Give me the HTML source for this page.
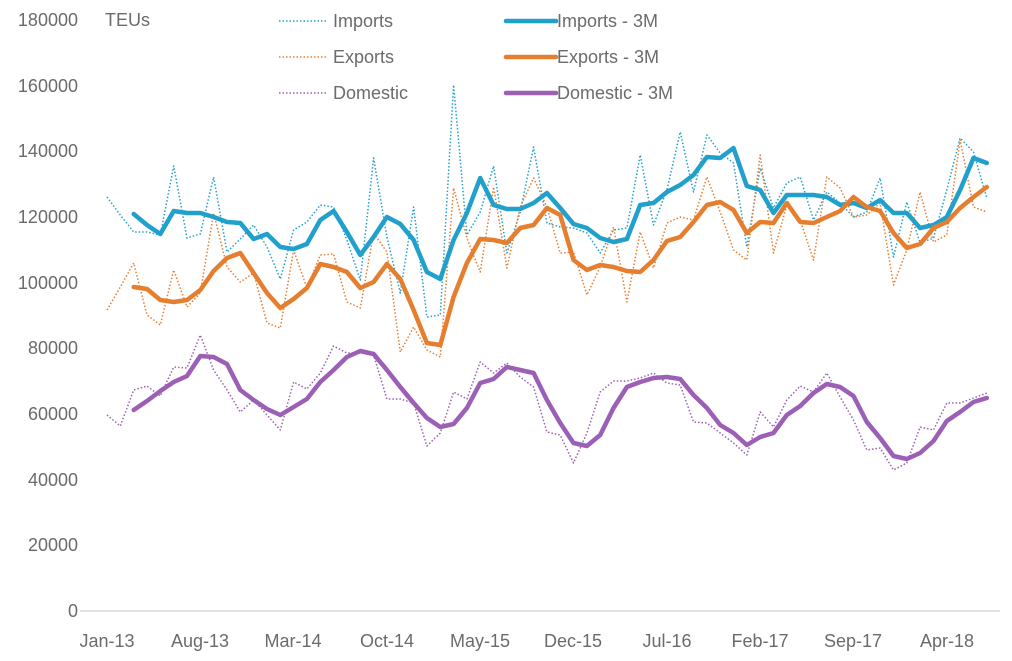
<!DOCTYPE html>
<html><head><meta charset="utf-8"><style>
body{margin:0;background:#fff;}
svg{display:block;font-family:"Liberation Sans",sans-serif;}
.t{fill:#6b6b6b;font-size:18px;}
</style></head><body>
<svg id="s" width="1012" height="661" viewBox="0 0 1012 661" xmlns="http://www.w3.org/2000/svg">
<line x1="80" y1="611" x2="1000" y2="611" stroke="#d9d9d9" stroke-width="1.5"/>
<g class="t" text-anchor="end">
<text x="78" y="26">180000</text><text x="78" y="92">160000</text><text x="78" y="157">140000</text>
<text x="78" y="223">120000</text><text x="78" y="289">100000</text><text x="78" y="354">80000</text>
<text x="78" y="420">60000</text><text x="78" y="486">40000</text><text x="78" y="551">20000</text>
<text x="78" y="617">0</text></g>
<g class="t" text-anchor="middle">
<text x="107" y="647">Jan-13</text><text x="200" y="647">Aug-13</text><text x="293" y="647">Mar-14</text>
<text x="387" y="647">Oct-14</text><text x="480" y="647">May-15</text><text x="573" y="647">Dec-15</text>
<text x="667" y="647">Jul-16</text><text x="760" y="647">Feb-17</text><text x="853" y="647">Sep-17</text>
<text x="947" y="647">Apr-18</text></g>
<text class="t" x="105" y="26">TEUs</text>
<g id="series"></g>
<g class="t">
<line x1="279" y1="21" x2="326" y2="21" stroke="#22a0cc" stroke-width="1.5" stroke-dasharray="1.5,2"/>
<text x="333" y="27">Imports</text>
<line x1="279" y1="57" x2="326" y2="57" stroke="#e67e30" stroke-width="1.5" stroke-dasharray="1.5,2"/>
<text x="333" y="63">Exports</text>
<line x1="279" y1="93" x2="326" y2="93" stroke="#9b5fb5" stroke-width="1.5" stroke-dasharray="1.5,2"/>
<text x="333" y="99">Domestic</text>
<line x1="506" y1="21" x2="556" y2="21" stroke="#22a0cc" stroke-width="4.5" stroke-linecap="round"/>
<text x="557" y="27">Imports - 3M</text>
<line x1="506" y1="57" x2="556" y2="57" stroke="#e67e30" stroke-width="4.5" stroke-linecap="round"/>
<text x="557" y="63">Exports - 3M</text>
<line x1="506" y1="93" x2="556" y2="93" stroke="#9b5fb5" stroke-width="4.5" stroke-linecap="round"/>
<text x="557" y="99">Domestic - 3M</text>
</g>
</svg>
<script>
var imp=[197,215,232,232,235,166,238,234,177,252,239,225,247,279,230,222,205,207,240,280,158,237,293,207,317,315,85,235,212,166,253,212,147,223,227,228,233,253,230,228,155,225,190,132,192,135,153,163,247,168,208,183,177,220,192,203,217,212,178,257,202,243,238,190,138,152,198];
var imp3=[null,null,214,225,234,211,213,213,217,222,223,239,234,247,249,244,220,211,232,255,237,217,224,240,272,279,240,213,178,205,209,209,203,193,208,224,228,238,242,239,205,203,192,185,175,157,158,148,186,190,213,195,195,195,197,205,203,208,200,213,213,228,225,217,190,158,163];
var exp=[310,287,263,315,325,270,307,293,213,267,282,273,323,328,250,288,255,254,302,308,233,252,352,327,350,357,188,238,272,187,268,207,178,207,253,252,295,267,227,302,232,268,223,217,220,177,212,250,260,155,253,205,220,260,177,188,217,215,203,285,250,192,242,235,140,207,212];
var exp3=[null,null,287,289,300,302,300,290,271,258,253,273,293,308,299,288,264,267,272,288,282,264,279,310,343,345,297,263,239,240,243,228,225,208,215,260,270,265,267,271,272,260,241,237,222,205,202,210,233,222,223,203,222,223,217,211,197,207,211,233,248,244,228,222,208,197,187];
var dom=[415,426,390,386,396,367,368,335,370,390,412,400,415,430,382,389,373,346,353,353,355,399,399,403,446,433,392,399,362,373,363,377,387,432,435,463,433,392,381,381,378,373,383,385,422,423,433,443,455,412,427,400,386,392,373,397,420,450,448,470,463,427,430,403,403,398,393];
var dom3=[null,null,410,401,391,382,376,356,357,364,390,400,409,415,407,399,382,370,357,351,354,370,387,403,418,427,424,408,383,379,367,370,373,400,423,443,446,435,408,387,382,378,377,379,395,408,425,433,445,437,433,415,406,393,384,387,396,422,438,456,459,453,441,421,412,402,398];
function pts(a){var r=[];for(var i=0;i<a.length;i++){if(a[i]!=null)r.push((107+13.33*i).toFixed(1)+","+a[i]);}return r.join(" ");}
var g=document.getElementById("series"),ns="http://www.w3.org/2000/svg";
function add(a,c,w,d){var p=document.createElementNS(ns,"polyline");p.setAttribute("points",pts(a));p.setAttribute("fill","none");p.setAttribute("stroke",c);p.setAttribute("stroke-width",w);p.setAttribute("stroke-linejoin","round");if(d){p.setAttribute("stroke-dasharray",d);}else{p.setAttribute("stroke-linecap","round");}g.appendChild(p);}
add(imp,"#22a0cc",1.5,"1.5,2");add(exp,"#e67e30",1.5,"1.5,2");add(dom,"#9b5fb5",1.5,"1.5,2");
add(imp3,"#22a0cc",4.5);add(exp3,"#e67e30",4.5);add(dom3,"#9b5fb5",4.5);
</script>
</body></html>
